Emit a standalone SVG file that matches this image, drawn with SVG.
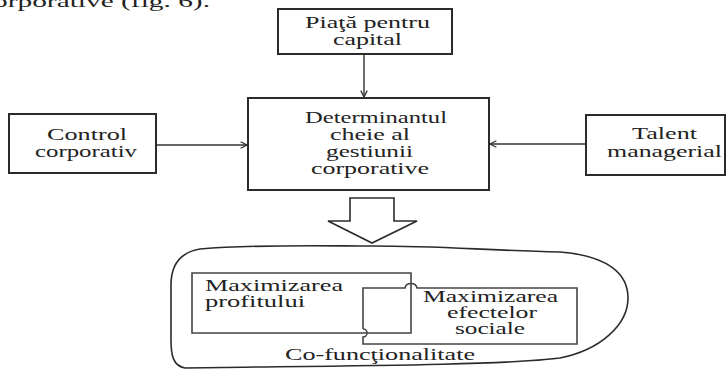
<svg xmlns="http://www.w3.org/2000/svg" width="726" height="371" viewBox="0 0 726 371">
  <style>
    text { font-family: "Liberation Serif", "Times New Roman", serif; font-size: 17px; fill: #222; }
    .sm { font-size: 16px; }
    .box { fill: #fff; stroke: #2b2b2b; stroke-width: 2; }
    .inner { fill: none; stroke: #444; stroke-width: 1.6; }
    .link { fill: none; stroke: #333; stroke-width: 1.4; marker-end: url(#chev); }
    .outline { fill: none; stroke: #2b2b2b; stroke-width: 1.6; }
  </style>
  <defs>
    <marker id="chev" viewBox="0 0 10 10" refX="9" refY="5" markerWidth="8" markerHeight="8" markerUnits="userSpaceOnUse" orient="auto">
      <path d="M1,1 L9,5 L1,9" fill="none" stroke="#333" stroke-width="1.6"/>
    </marker>
  </defs>

  <rect width="726" height="371" fill="#fff"/>

  <!-- running text above the figure -->
  <text x="-20" y="7" font-size="26" textLength="230" lengthAdjust="spacingAndGlyphs">corporative (fig. 6).</text>

  <g id="connectors">
    <line class="link" x1="364" y1="53" x2="364" y2="97"/>
    <line class="link" x1="156" y1="145" x2="247" y2="145"/>
    <line class="link" x1="586" y1="144" x2="490" y2="144"/>
    <!-- block arrow to the outcome area -->
    <path d="M350,198 L394,198 L394,221 L417,221 L372,243 L328,221 L350,221 Z" fill="#fff" stroke="#2b2b2b" stroke-width="1.6"/>
  </g>

  <g id="piata">
    <rect class="box" x="278" y="9" width="174" height="45"/>
    <text x="305" y="28" textLength="125" lengthAdjust="spacingAndGlyphs">Piaţă pentru</text>
    <text x="333" y="45" textLength="69" lengthAdjust="spacingAndGlyphs">capital</text>
  </g>

  <g id="determinant">
    <rect class="box" x="248" y="98" width="241" height="92"/>
    <text x="305" y="123" textLength="142" lengthAdjust="spacingAndGlyphs">Determinantul</text>
    <text x="330" y="140" textLength="80" lengthAdjust="spacingAndGlyphs">cheie al</text>
    <text x="326" y="157" textLength="87" lengthAdjust="spacingAndGlyphs">gestiunii</text>
    <text x="311" y="174" textLength="118" lengthAdjust="spacingAndGlyphs">corporative</text>
  </g>

  <g id="control">
    <rect class="box" x="9" y="114" width="147" height="59"/>
    <text x="47" y="140" textLength="80" lengthAdjust="spacingAndGlyphs">Control</text>
    <text x="35" y="157" textLength="102" lengthAdjust="spacingAndGlyphs">corporativ</text>
  </g>

  <g id="talent">
    <rect class="box" x="586" y="115" width="139" height="60"/>
    <text x="632" y="139" textLength="65" lengthAdjust="spacingAndGlyphs">Talent</text>
    <text x="607" y="157" textLength="115" lengthAdjust="spacingAndGlyphs">managerial</text>
  </g>

  <g id="cofunctionalitate">
    <path class="outline" d="M200,249 C260,244 330,246 372,246 C440,246 480,250 560,252 C610,256 628,275 628,298 C628,325 600,350 560,358 C500,366 300,366 185,368 C173,366 171,355 171,340 L171,285 C171,262 182,252 200,249 Z"/>
    <text x="285" y="360" textLength="190" lengthAdjust="spacingAndGlyphs">Co-funcţionalitate</text>
  </g>

  <g id="profit">
    <path class="inner" d="M192,273 L411,273 L411,333 L192,333 Z"/>
    <text class="sm" x="205" y="291" textLength="138" lengthAdjust="spacingAndGlyphs">Maximizarea</text>
    <text class="sm" x="205" y="307" textLength="100" lengthAdjust="spacingAndGlyphs">profitului</text>
  </g>

  <g id="social">
    <!-- outline hops over the crossing edges of the profit box -->
    <path class="inner" d="M363,329 L363,288 L405,288 C406,282 416,282 417,288 L577,288 L577,344 L363,344 L363,337 A4,4 0 0 0 363,329"/>
    <text class="sm" x="423" y="302" textLength="135" lengthAdjust="spacingAndGlyphs">Maximizarea</text>
    <text class="sm" x="447" y="318" textLength="90" lengthAdjust="spacingAndGlyphs">efectelor</text>
    <text class="sm" x="455" y="334" textLength="70" lengthAdjust="spacingAndGlyphs">sociale</text>
  </g>
</svg>
